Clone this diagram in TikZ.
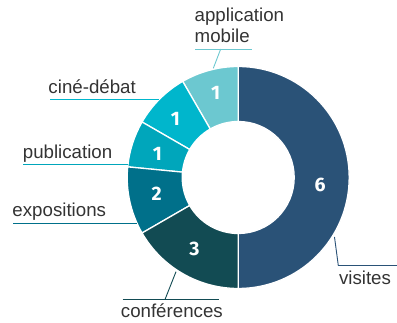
\documentclass[tikz,border=0pt]{standalone}
\usepackage{fontspec}
\setmainfont{Liberation Sans}
\newfontfamily\numfont{Fira Sans}
\definecolor{cvisit}{HTML}{2A5277}
\definecolor{cconf}{HTML}{124B53}
\definecolor{cexpo}{HTML}{00708A}
\definecolor{cpub}{HTML}{00A6BB}
\definecolor{ccine}{HTML}{00B6CC}
\definecolor{capp}{HTML}{6CC8D0}
\definecolor{ctext}{HTML}{333333}
\newcommand\donutseg[3]{%
  \filldraw[segstyle,fill=#1] ([shift={(#2:111)}]c) arc[start angle=#2,end angle=#3,radius=111]
    -- ([shift={(#3:56)}]c) arc[start angle=#3,end angle=#2,radius=56] -- cycle;}
\begin{document}
\begin{tikzpicture}[x=1pt,y=1pt,
  segstyle/.style={draw=white,line width=1.3pt},
  lbl/.style={anchor=base west,inner sep=0pt,text=ctext,font=\fontsize{18.7}{21}\selectfont},
  num/.style={inner sep=0pt,text=white,font=\numfont\fontsize{19.5}{21}\selectfont\bfseries},
  leader/.style={line width=0.9pt}]
\useasboundingbox (0,0) rectangle (397,323);
\coordinate (c) at (238.2,145.5);
\donutseg{cvisit}{-90}{90}
\donutseg{capp}{90}{120}
\donutseg{ccine}{120}{150}
\donutseg{cpub}{150}{174.5}
\donutseg{cexpo}{174.5}{210}
\donutseg{cconf}{210}{270}
% numbers
\node[num] (n6) at (320,138.5) {6};
\node[num] (n3) at (194.5,73.8) {3};
\node[num] (n2) at (156.7,129.7) {2};
\node[num] (n1p) at (157.3,169) {1};
\node[num] (n1c) at (175.5,203.7) {1};
\node[num] (n1a) at (215.7,229.7) {1};
% labels
\node[lbl] (lapp) at (194.5,301) {application};
\node[lbl] (lmob) at (194.5,280.3) {mobile};
\node[lbl] (lcine) at (48.3,229.7) {ciné-débat};
\node[lbl] (lpub) at (22.7,164.7) {publication};
\node[lbl] (lexpo) at (12.3,106.3) {expositions};
\node[lbl] (lconf) at (120.7,5.5) {conférences};
\node[lbl] (lvis) at (338.8,38) {visites};
% leader coordinates
\coordinate (aA) at (213.3,254.7);
\coordinate (aB) at (220.7,274);
\coordinate (aL) at (195,274);
\coordinate (aR) at (251.7,274);
\coordinate (cL) at (50,223.7);
\coordinate (cR) at (159,223.7);
\coordinate (pL) at (23.3,158.7);
\coordinate (pR) at (128,158.7);
\coordinate (eL) at (13.3,99.7);
\coordinate (eR) at (137,99.7);
\coordinate (fA) at (176,51.3);
\coordinate (fB) at (165,23.5);
\coordinate (fL) at (122.5,23.5);
\coordinate (fR) at (219,23.5);
\coordinate (vA) at (334.5,86);
\coordinate (vB) at (338.3,57.5);
\coordinate (vR) at (397,57.5);
\draw[leader,capp] (aA) -- (aB);
\draw[leader,capp] (aL) -- (aR);
\draw[leader,ccine] (cL) -- (cR);
\draw[leader,cpub] (pL) -- (pR);
\draw[leader,cexpo] (eL) -- (eR);
\draw[leader,cconf] (fA) -- (fB);
\draw[leader,cconf] (fL) -- (fR);
\draw[leader,cvisit] (vA) -- (vB) -- (vR);
\end{tikzpicture}
\end{document}
